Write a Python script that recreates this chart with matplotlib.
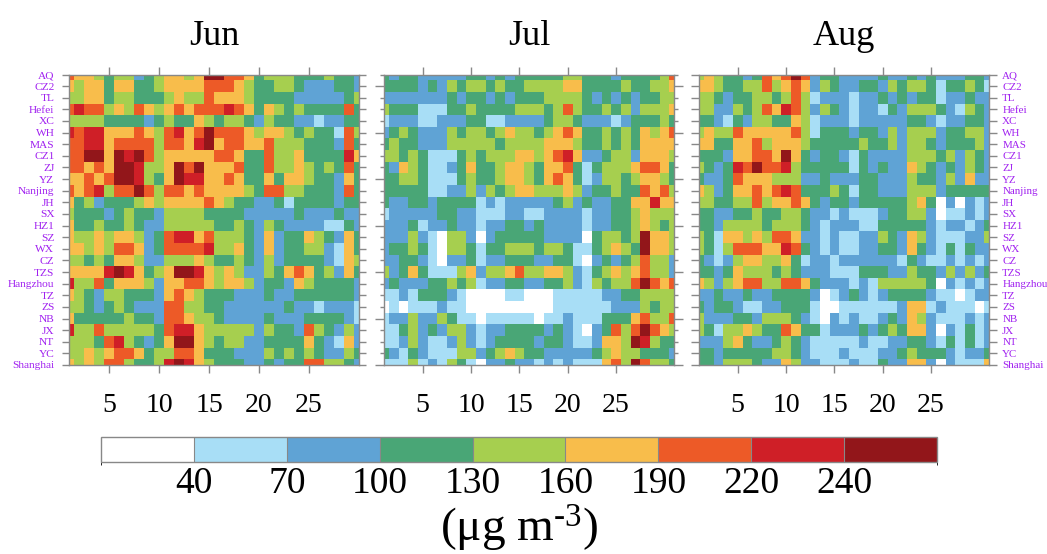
import numpy as np
import matplotlib
matplotlib.use("Agg")
import matplotlib.pyplot as plt
from matplotlib.colors import ListedColormap, BoundaryNorm
from matplotlib.ticker import FixedLocator

plt.rcParams['font.family'] = ['Liberation Serif', 'DejaVu Serif']
plt.rcParams['mathtext.fontset'] = 'custom'
plt.rcParams['mathtext.rm'] = 'Liberation Serif'
plt.rcParams['mathtext.default'] = 'regular'

# Sites, top to bottom
sites = ["AQ", "CZ2", "TL", "Hefei", "XC", "WH", "MAS", "CZ1", "ZJ", "YZ",
         "Nanjing", "JH", "SX", "HZ1", "SZ", "WX", "CZ", "TZS", "Hangzhou",
         "TZ", "ZS", "NB", "JX", "NT", "YC", "Shanghai"]
months = ["Jun", "Jul", "Aug"]
day_ticks = [5, 10, 15, 20, 25]
levels = [40, 70, 100, 130, 160, 190, 220, 240]

# Colour class per site and day (0 = <40, 1 = 40-70, ... 8 = >240)
jun_class = [
    "655434423455458866534443334332",
    "545535533455556665433443222332",
    "445534433345446555433332222234",
    "676645465456566676535434333363",
    "444433332343354344324332212233",
    "767755565467568666545543433164",
    "667756666466578566556444333263",
    "668858786455555665336445333375",
    "665658874458685556336445434363",
    "556568874358775565335355433253",
    "656746686466565555436644333263",
    "534233345455556543322313333233",
    "433323433244443333222223222322",
    "533433432244444334324322221132",
    "544545542367756444325233543253",
    "554546652366667445325233442153",
    "443435542244454334324233332154",
    "555578753458875454224356534253",
    "744635554255665455423325433332",
    "543244333256543332223223333332",
    "443234322266443322222232212221",
    "533333433266544322223222333321",
    "744644444367754444424332643242",
    "444367432358854344223333532152",
    "445456653446653332224343432243",
    "545466433478754333223233664432",
]
jul_class = [
    "3233222223323233333443332333346",
    "3333232434434334444553333433445",
    "2222222323323233344443232323344",
    "4333111334333344434643343424445",
    "1222112223311222234432221233343",
    "2343222434434544345653343435456",
    "3433222444443444455543343435555",
    "4434311134344455456752234425554",
    "3254311235334554355631344456653",
    "3344311134334554356531244345543",
    "3333311224243455444542334336564",
    "3223323333121222223423223355755",
    "1222223322111221122221223345444",
    "2223122322122332322221223345434",
    "2224210442023333322220344348554",
    "2334310443133444344311345438554",
    "2233210223122333223310232346442",
    "4235311145244564455421345456442",
    "2322233434122332233421434468656",
    "1121333210000110001111122334444",
    "0101112110000000001111112224344",
    "1224224311011111011211133356446",
    "1134232442122333323210236468654",
    "1124211242123333233211255487433",
    "3213211144234543322222345443332",
    "1114121431022322121211156486443",
]
aug_class = [
    "4543323656862332222322323222332",
    "5543344645652432233243443133431",
    "4432334434641222122323233122322",
    "4422434657642432122132444321432",
    "3321324433541222122222332122332",
    "4544655555641333233242444233442",
    "5533556455543333343342443233342",
    "3332556658532332132222444342432",
    "4323768667433333132322543232432",
    "3223655544422322233222433242522",
    "5423556567633343133222444233333",
    "4433446455653233233333453020212",
    "3322334334432212111233442011212",
    "3324444344432122211333332122123",
    "4315545466522121122432542111224",
    "4314666557632121122332532131322",
    "3212455445312212222221321121212",
    "3323544434322211133322433242423",
    "5424566446653222121444443021212",
    "2232232233332012321233332110122",
    "3233211223331001111112551211101",
    "4222332444321021211232542111212",
    "4314454336533122232343552021312",
    "2224532234321111121122332131312",
    "3323333344321112111223433321223",
    "3324443225422111211322552021115",
]
# A value inside each colour class (ug m-3)
class_value = [25, 55, 85, 115, 145, 175, 205, 230, 255]

colors = ["#ffffff", "#a8def6", "#5fa3d5", "#49a676", "#a6cf4f",
          "#f8bd4b", "#ed5a27", "#cf1f27", "#92161a"]
cmap = ListedColormap(colors)
bounds = [0] + levels + [300]
norm = BoundaryNorm(bounds, cmap.N)

purple = "#a020f0"
frame = "#888888"


def to_values(rows):
    return np.array([[class_value[int(c)] for c in row] for row in rows])


fig = plt.figure(figsize=(10.47, 5.54), dpi=100)

lefts = [69 / 1047, 384 / 1047, 699 / 1047]
width = 290 / 1047
bottom = 1 - 365 / 554
height = 290.5 / 554

for i, rows in enumerate([jun_class, jul_class, aug_class]):
    data = to_values(rows)
    ndays = data.shape[1]
    ax = fig.add_axes([lefts[i], bottom, width, height])
    ax.pcolormesh(np.arange(0.5, ndays + 1), np.arange(-0.5, len(sites)),
                  data, cmap=cmap, norm=norm)
    ax.set_xlim(1, ndays)
    ax.set_ylim(len(sites) - 1, 0)

    for s in ax.spines.values():
        s.set_color(frame)
        s.set_linewidth(1.0)

    # day ticks, bottom labels only
    ax.set_xticks(day_ticks)
    ax.tick_params(axis='x', which='major', direction='out', length=5.5,
                   width=1, color=frame, top=True, bottom=True,
                   labelsize=20, pad=15)

    # site ticks
    if i == 0:
        ax.set_yticks(range(len(sites)))
        ax.set_yticklabels(sites)
        ax.tick_params(axis='y', direction='out', length=5, width=1,
                       color=frame, left=True, right=True,
                       labelsize=8.2, labelcolor=purple, pad=5.5)
    else:
        ax.yaxis.set_major_locator(FixedLocator(range(1, len(sites), 4)))
        ax.yaxis.set_minor_locator(FixedLocator(range(len(sites))))
        ax.tick_params(axis='y', which='major', direction='out', length=6.5,
                       width=1, color=frame, left=True, right=True,
                       labelleft=False)
        ax.tick_params(axis='y', which='minor', direction='out', length=3,
                       width=1, color=frame, left=True, right=True)
        if i == 2:
            # right-hand site names on the last panel
            ax.yaxis.set_major_locator(FixedLocator(range(len(sites))))
            ax.yaxis.set_minor_locator(FixedLocator([]))
            ax.set_yticklabels(sites)
            ax.tick_params(axis='y', which='major', length=5.5,
                           labelright=True, labelsize=7.9,
                           labelcolor=purple, pad=4)

    fig.text(lefts[i] + width / 2, 1 - 45 / 554, months[i], fontsize=26,
             ha='center', va='baseline')

# colour bar
cax = fig.add_axes([101 / 1047, 1 - 462 / 554, 836 / 1047, 25 / 554])
cb = matplotlib.colorbar.ColorbarBase(cax, cmap=cmap, norm=norm,
                                      boundaries=bounds, spacing='uniform',
                                      orientation='horizontal', ticks=levels,
                                      drawedges=True)
cb.outline.set_edgecolor(frame)
cb.outline.set_linewidth(1.0)
cb.dividers.set_color(frame)
cb.dividers.set_linewidth(0.8)
cax.tick_params(length=0, labelsize=27, pad=3)
fig.text(519 / 1047, 1 - 542 / 554, r"(μg m$^{\text{-}3}$)", fontsize=34,
         ha='center', va='baseline')

fig.savefig("out.png", dpi=100)
